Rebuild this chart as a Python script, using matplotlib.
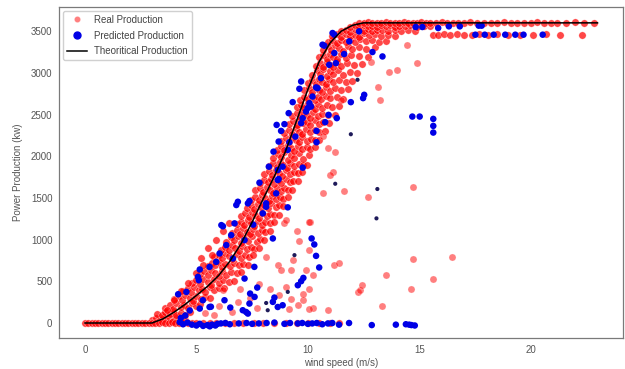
import matplotlib
matplotlib.use("Agg")
import matplotlib.pyplot as plt
from matplotlib.lines import Line2D

# ---------------- data ----------------
theo_ws = [0, 1, 2, 3, 3.5, 4, 4.5, 5, 5.5, 6, 6.5, 7, 7.5, 8, 8.5, 9, 9.5,
           10, 10.5, 11, 11.5, 12, 12.5, 13, 23]
theo_kw = [0, 0, 0, 0, 50, 130, 225, 330, 440, 570, 740, 950, 1210, 1490,
           1760, 2060, 2430, 2800, 3130, 3360, 3500, 3570, 3600, 3600, 3600]

# dense band of real production
band_ws = [
    3.0, 3.2, 3.35, 3.5, 3.65, 3.8, 3.95, 4.1, 4.3, 4.5,
    3.25, 3.45, 3.6, 3.8, 3.95, 4.1, 4.3, 4.5, 4.7,
    3.6, 3.8, 3.95, 4.1, 4.3, 4.45, 4.6, 4.8, 5.0, 5.15,
    4.0, 4.2, 4.35, 4.5, 4.7, 4.85, 5.0, 5.2, 5.4, 5.6,
    4.4, 4.6, 4.75, 4.9, 5.1, 5.25, 5.4, 5.6, 5.8, 6.0,
    4.8, 5.0, 5.15, 5.3, 5.5, 5.65, 5.8, 6.0, 6.2, 6.45,
    5.15, 5.35, 5.5, 5.65, 5.85, 6.0, 6.15, 6.35, 6.55, 6.8,
    5.5, 5.7, 5.85, 6.0, 6.15, 6.3, 6.5, 6.7, 6.9, 7.1,
    5.8, 6.0, 6.15, 6.3, 6.45, 6.6, 6.8, 7.0, 7.2, 7.35,
    6.1, 6.3, 6.45, 6.6, 6.75, 6.9, 7.05, 7.25, 7.45, 7.6,
    6.35, 6.55, 6.7, 6.85, 7.0, 7.15, 7.3, 7.5, 7.7, 7.85,
    6.6, 6.8, 6.95, 7.1, 7.25, 7.4, 7.55, 7.75, 7.95, 8.1,
    6.8, 7.0, 7.15, 7.3, 7.45, 7.6, 7.75, 7.95, 8.1, 8.3,
    7.0, 7.2, 7.35, 7.5, 7.65, 7.8, 7.95, 8.15, 8.3, 8.5,
    7.25, 7.45, 7.6, 7.75, 7.9, 8.05, 8.2, 8.35, 8.55, 8.7,
    7.45, 7.65, 7.8, 7.95, 8.1, 8.25, 8.4, 8.55, 8.75, 8.9,
    7.65, 7.85, 8.0, 8.15, 8.3, 8.45, 8.6, 8.8, 8.95, 9.1,
    7.85, 8.05, 8.2, 8.35, 8.5, 8.65, 8.8, 9.0, 9.2, 9.35,
    8.05, 8.25, 8.4, 8.55, 8.7, 8.85, 9.0, 9.2, 9.4, 9.55,
    8.25, 8.45, 8.6, 8.75, 8.9, 9.05, 9.2, 9.4, 9.6, 9.8,
    8.45, 8.65, 8.8, 8.95, 9.1, 9.25, 9.4, 9.6, 9.8, 10.05,
    8.6, 8.8, 8.95, 9.1, 9.25, 9.4, 9.55, 9.75, 9.95, 10.1, 10.3,
    8.8, 9.0, 9.15, 9.3, 9.45, 9.6, 9.75, 9.95, 10.15, 10.3, 10.5,
    8.95, 9.15, 9.3, 9.45, 9.6, 9.75, 9.9, 10.1, 10.3, 10.5, 10.75,
    9.15, 9.35, 9.5, 9.65, 9.8, 9.95, 10.1, 10.3, 10.5, 10.7, 10.95,
    9.3, 9.5, 9.65, 9.8, 9.95, 10.1, 10.25, 10.45, 10.65, 10.9, 11.2,
    9.5, 9.7, 9.85, 10.0, 10.15, 10.3, 10.45, 10.65, 10.85, 11.1, 11.4,
    9.65, 9.85, 10.0, 10.15, 10.3, 10.45, 10.6, 10.8, 11.0, 11.3, 11.6,
    9.85, 10.05, 10.2, 10.35, 10.5, 10.65, 10.8, 11.0, 11.2, 11.5, 11.8,
    10.0, 10.2, 10.35, 10.5, 10.65, 10.8, 10.95, 11.15, 11.4, 11.7, 12.0,
    10.2, 10.4, 10.55, 10.7, 10.85, 11.0, 11.15, 11.35, 11.6, 11.9, 12.2,
    10.35, 10.55, 10.7, 10.85, 11.0, 11.15, 11.3, 11.5, 11.75, 12.05, 12.45,
    10.5, 10.7, 10.85, 11.0, 11.15, 11.3, 11.5, 11.7, 11.95, 12.3, 12.7,
    10.7, 10.9, 11.05, 11.2, 11.4, 11.6, 11.8, 12.0, 12.3, 12.6, 13.0,
    10.9, 11.1, 11.3, 11.5, 11.7, 11.9, 12.1, 12.35, 12.6, 12.9, 13.2, 13.5,
    11.1, 11.3, 11.5, 11.7, 11.9, 12.1, 12.3, 12.5, 12.75, 13.0, 13.3, 13.6, 13.9,
    11.5, 11.7, 11.9, 12.1, 12.3, 12.5, 12.7, 12.9, 13.1, 13.35, 13.6, 13.9, 14.2, 14.5, 14.8,
    11.9, 12.1, 12.3, 12.5, 12.7, 12.9, 13.1, 13.3, 13.5, 13.7, 13.9, 14.1, 14.35, 14.6, 14.9, 15.2, 15.5,
    6.25, 6.7, 7.0, 7.3, 7.55, 7.8, 8.05, 8.3, 8.5, 8.7, 8.9, 9.1, 9.3, 9.55, 9.75, 9.95,
    5.5, 5.7, 5.3, 5.0, 4.6, 4.3, 4.0, 3.7, 5.9, 6.2, 6.45, 5.2,
]
band_kw = [
    35, 55, 30, 70, 45, 60, 25, 75, 50, 40,
    110, 95, 135, 105, 140, 90, 125, 100, 130,
    185, 220, 170, 235, 195, 215, 180, 240, 200, 225,
    290, 320, 275, 335, 300, 265, 325, 285, 310, 295,
    385, 420, 370, 430, 395, 410, 375, 435, 390, 415,
    480, 515, 470, 530, 495, 460, 525, 485, 510, 490,
    590, 620, 575, 635, 600, 565, 625, 580, 615, 595,
    680, 715, 690, 730, 670, 710, 685, 725, 695, 705,
    790, 820, 775, 835, 800, 765, 830, 785, 815, 795,
    880, 915, 870, 930, 895, 865, 925, 885, 910, 890,
    975, 1030, 990, 1045, 960, 1020, 985, 1040, 970, 1010,
    1080, 1120, 1070, 1135, 1095, 1065, 1125, 1085, 1115, 1090,
    1185, 1215, 1170, 1230, 1195, 1165, 1225, 1180, 1210, 1200,
    1280, 1320, 1270, 1335, 1295, 1265, 1325, 1285, 1310, 1290,
    1385, 1420, 1370, 1430, 1395, 1410, 1375, 1435, 1390, 1415,
    1480, 1515, 1470, 1530, 1495, 1460, 1525, 1485, 1510, 1490,
    1590, 1620, 1575, 1635, 1600, 1565, 1625, 1580, 1615, 1595,
    1680, 1715, 1690, 1730, 1670, 1710, 1685, 1725, 1695, 1705,
    1790, 1820, 1775, 1835, 1800, 1765, 1830, 1785, 1815, 1795,
    1880, 1915, 1870, 1930, 1895, 1865, 1925, 1885, 1910, 1890,
    1975, 2030, 1990, 2045, 1960, 2020, 1985, 2040, 1970, 2010,
    2080, 2120, 2070, 2135, 2095, 2065, 2125, 2085, 2115, 2090, 2105,
    2185, 2215, 2170, 2230, 2195, 2165, 2225, 2180, 2210, 2200, 2190,
    2280, 2320, 2270, 2335, 2295, 2265, 2325, 2285, 2310, 2290, 2305,
    2385, 2420, 2370, 2430, 2395, 2410, 2375, 2435, 2390, 2415, 2400,
    2480, 2515, 2470, 2530, 2495, 2460, 2525, 2485, 2510, 2490, 2500,
    2590, 2620, 2575, 2635, 2600, 2565, 2625, 2580, 2615, 2595, 2605,
    2680, 2715, 2690, 2730, 2670, 2710, 2685, 2725, 2695, 2705, 2690,
    2790, 2820, 2775, 2835, 2800, 2765, 2830, 2785, 2815, 2795, 2805,
    2880, 2915, 2870, 2930, 2895, 2865, 2925, 2885, 2910, 2890, 2900,
    2975, 3030, 2990, 3045, 2960, 3020, 2985, 3040, 2970, 3010, 3000,
    3080, 3120, 3070, 3135, 3095, 3065, 3125, 3085, 3115, 3090, 3105,
    3185, 3215, 3170, 3230, 3195, 3165, 3225, 3180, 3210, 3200, 3190,
    3280, 3320, 3270, 3335, 3295, 3265, 3325, 3285, 3310, 3290, 3305,
    3370, 3395, 3360, 3400, 3375, 3390, 3365, 3405, 3380, 3395, 3370, 3385,
    3440, 3465, 3430, 3470, 3445, 3460, 3435, 3475, 3450, 3465, 3440, 3455, 3445,
    3505, 3520, 3495, 3525, 3510, 3500, 3530, 3505, 3520, 3510, 3500, 3515, 3505, 3510, 3500,
    3555, 3570, 3550, 3575, 3560, 3565, 3550, 3575, 3560, 3570, 3555, 3565, 3560, 3570, 3555, 3565, 3560,
    420, 505, 610, 700, 810, 900, 1000, 1105, 1210, 1300, 1400, 1510, 1600, 1700, 1810, 1900,
    900, 820, 700, 600, 480, 380, 280, 160, 1000, 1100, 1200, 780,
]

# real production at rated power (flat top) and the row just below it
top_ws = [12.3, 12.5, 12.7, 12.9, 13.1, 13.3, 13.5, 13.7, 13.9, 14.1, 14.3,
          14.5, 14.7, 14.9, 15.1, 15.3, 15.5, 15.75, 16.0, 16.25, 16.5, 16.75,
          17.0, 17.3, 17.6, 17.9, 18.2, 18.5, 18.8, 19.1, 19.4, 19.7, 20.0,
          20.3, 20.6, 20.9, 21.2, 21.6, 22.0, 22.4, 22.85,
          15.6, 15.85, 16.1, 16.4, 16.7, 17.0, 17.35, 17.7, 18.1, 18.5, 19.0,
          19.5, 20.1, 20.7, 21.3, 22.3]
top_kw = [3600, 3595, 3605, 3600, 3595, 3600, 3605, 3600, 3595, 3600, 3605,
          3600, 3595, 3600, 3605, 3600, 3595, 3600, 3605, 3600, 3595, 3600,
          3600, 3605, 3600, 3595, 3600, 3600, 3605, 3600, 3595, 3600, 3600,
          3605, 3600, 3595, 3600, 3600, 3605, 3600, 3600,
          3460, 3455, 3470, 3450, 3465, 3460, 3455, 3470, 3450, 3465, 3455,
          3460, 3450, 3465, 3455, 3460]

# real production at zero power
zero_ws = [0.0, 0.15, 0.3, 0.45, 0.6, 0.75, 0.9, 1.05, 1.2, 1.35, 1.5, 1.65,
           1.8, 1.95, 2.1, 2.25, 2.4, 2.55, 2.7, 2.85, 3.0, 3.15, 3.3, 3.45,
           3.6, 3.75, 3.9, 4.05, 4.2, 4.4, 4.6, 4.8, 5.0, 5.3, 5.6, 5.9, 6.3,
           6.7, 7.1, 7.6, 8.0, 8.5, 9.0, 9.5, 10.0, 10.5, 11.0, 11.4]
zero_kw = [0, 0, 0, 0, 0, 0, 0, 0, 0, 0, 0, 0,
           0, 0, 0, 0, 0, 0, 0, 0, 0, 5, 0, 10,
           5, 0, 10, 5, 0, 5, 0, 0, 5, 0, 0, 5, 0,
           0, 5, 0, 0, 5, 0, 0, 0, 5, 0, 0]

# scattered real production below the band
out_ws = [14.47, 14.91, 13.65, 14.02, 13.15, 13.24, 12.83, 11.48, 10.7, 10.89,
          11.23, 11.11, 11.0, 14.7, 10.66, 11.63, 12.68, 10.1, 10.07, 9.92,
          10.21, 10.04, 9.8, 10.21, 10.92, 11.19, 11.38, 12.23, 12.34, 12.41,
          13.5, 13.35, 14.62, 14.72, 15.62, 16.48,
          6.19, 6.94, 6.86, 7.83, 8.28, 8.65, 8.8, 9.25, 9.32, 10.07, 9.25,
          9.55, 6.0, 8.95, 9.02, 9.02, 8.72, 9.17, 9.77, 10.07, 8.13, 7.4,
          7.7, 6.6, 5.4, 5.8, 9.6, 9.5]
out_kw = [3330, 3117, 3005, 3037, 2825, 2677, 3125, 2677, 2244, 2096,
          2055, 1815, 1780, 1627, 1555, 1583, 1514, 1207, 874, 633,
          581, 413, 273, 185, 153, 694, 721, 373, 393, 453,
          573, 200, 413, 765, 525, 793,
          393, 413, 253, 473, 413, 694, 633, 633, 754, 1214, 293,
          213, 200, 1195, 1234, 433, 333, 173, 353, 173, 793, 300,
          180, 130, 120, 90, 980, 1100]

# predicted production
pred_ws = [11.11, 11.19, 10.66, 10.74, 12.3, 11.86, 11.19, 11.63, 10.96, 11.26,
           12.9, 13.35, 9.7, 9.62, 10.59, 10.37, 10.21, 9.32, 10.07, 9.99,
           9.92, 9.14, 8.6, 8.95, 8.8, 9.77, 9.7, 10.93, 10.78, 11.3,
           10.39, 9.44, 8.69, 9.17, 9.1, 8.46, 10.39, 8.87, 8.25, 8.65,
           8.69, 9.77, 7.83, 11.93, 12.53, 12.48, 14.69, 15.02, 15.63, 15.63,
           15.63, 10.44, 10.14,
           14.84, 15.14, 15.85, 16.33, 16.82, 17.67, 17.8,
           17.52, 17.94, 18.34, 18.86, 19.31, 19.68, 20.54,
           4.18, 4.55, 5.07, 5.11, 5.15, 5.59, 6.04, 5.89, 6.34, 6.12,
           6.19, 6.56, 6.71, 6.79, 7.31, 6.86, 7.38, 6.64, 7.6, 7.16,
           7.55, 7.98, 8.13, 8.13, 8.58, 8.43, 9.1, 8.65, 10.17, 10.29,
           10.37, 10.51, 9.8, 9.7, 9.55,
           5.29, 5.15, 5.59, 5.65, 6.26, 6.52, 7.08, 7.23, 7.31, 7.38,
           7.61, 7.73, 7.41, 7.16, 8.5, 8.43, 8.65, 8.87, 4.7, 4.5, 4.3,
           4.25, 4.4, 4.6, 4.8, 5.0, 5.15, 5.3, 5.5, 5.6, 5.7,
           5.85, 5.95, 6.1, 6.3, 6.5, 6.9, 7.25, 7.5, 7.8, 8.15,
           8.5, 8.95, 9.2, 9.55, 9.75, 10.0, 10.2, 10.4, 10.65, 10.9,
           11.1, 11.4, 11.85, 12.87, 13.95, 14.4, 14.55, 14.65, 14.8]
pred_kw = [3478, 3458, 3338, 3326, 3498, 3378, 3238, 3226, 3097, 3117,
           3250, 3197, 2897, 2809, 2937, 2825, 2716, 2649, 2637, 2577,
           2536, 2517, 2376, 2385, 2304, 2457, 2397, 2496, 2409, 2457,
           2304, 2236, 2176, 2168, 2076, 2055, 2168, 1875, 1875, 1835,
           1727, 1863, 1683, 2649, 2737, 2697, 2476, 2476, 2448, 2364,
           2284, 2817, 2596,
           3550, 3550, 3538, 3558, 3558, 3566, 3566,
           3458, 3458, 3458, 3458, 3458, 3458, 3458,
           345, 373, 553, 513, 642, 673, 834, 733, 934, 1174,
           1160, 1054, 1195, 1415, 1435, 1454, 1463, 774, 673, 994,
           1180, 1315, 1394, 1435, 1555, 1014, 1387, 1715, 1014, 942,
           805, 666, 541, 501, 453,
           273, 173, 192, 195, 273, 185, 153, 132, 113, 233,
           313, 425, 353, 533, 305, 253, 192, 213, 150, 90, 60,
           10, -15, 5, -20, -30, -10, -35, -25, -40, -20,
           -30, -10, -5, 0, -15, -5, 0, -10, -5, 0,
           5, -10, 0, -5, 0, -10, -5, 0, -15, -5,
           0, -20, 0, -25, -20, -15, -20, -25, -30]

# small dark predicted points
dark_ws = [11.23, 13.12, 13.08, 12.23, 11.93, 9.1, 8.13, 8.2, 9.4]
dark_kw = [1670, 1607, 1255, 2917, 2264, 373, 240, 153, 814]

# ---------------- drawing ----------------
plt.rcParams['font.family'] = ['Liberation Sans', 'DejaVu Sans']
fig = plt.figure(figsize=(6.25, 3.69), dpi=100)
ax = fig.add_axes([0.095, 0.084, 0.902, 0.897])

dense_ws = band_ws + top_ws + zero_ws
dense_kw = band_kw + top_kw + zero_kw

ax.scatter(dense_ws, dense_kw, s=28, color='red', alpha=0.72,
           edgecolors='white', linewidths=0.3, zorder=2)
ax.scatter(out_ws, out_kw, s=26, color='red', alpha=0.5,
           edgecolors='white', linewidths=0.3, zorder=2)
ax.scatter(pred_ws, pred_kw, s=22, color='#0000e6', edgecolors='none', zorder=3)
ax.scatter(dark_ws, dark_kw, s=9, color='#1e1a5a', edgecolors='none', zorder=3)
ax.plot(theo_ws, theo_kw, color='black', lw=1.1, zorder=4)

ax.set_xlim(-1.15, 24.15)
ax.set_ylim(-180, 3790)
ax.set_xticks([0, 5, 10, 15, 20])
ax.set_yticks([0, 500, 1000, 1500, 2000, 2500, 3000, 3500])
ax.tick_params(length=0, labelsize=7, colors='#555555', pad=5)
for sp in ax.spines.values():
    sp.set_color('#7a7a7a')
    sp.set_linewidth(0.9)
ax.set_xlabel('wind speed (m/s)', fontsize=7, color='#555555', labelpad=2)
ax.set_ylabel('Power Production (kw)', fontsize=7, color='#555555', labelpad=6)

handles = [
    Line2D([], [], marker='o', ls='none', color='red', alpha=0.5,
           markersize=4.5, markeredgecolor='white', markeredgewidth=0.4),
    Line2D([], [], marker='o', ls='none', color='#0000e6', markersize=5),
    Line2D([], [], color='black', lw=1.1),
]
ax.legend(handles, ['Real Production', 'Predicted Production',
                    'Theoritical Production'],
          loc='upper left', fontsize=7, frameon=True, edgecolor='#d0d0d0',
          borderaxespad=0.4, handlelength=2.0, labelspacing=0.6,
          framealpha=1, labelcolor='#444444')

fig.savefig('out.png', dpi=100)
